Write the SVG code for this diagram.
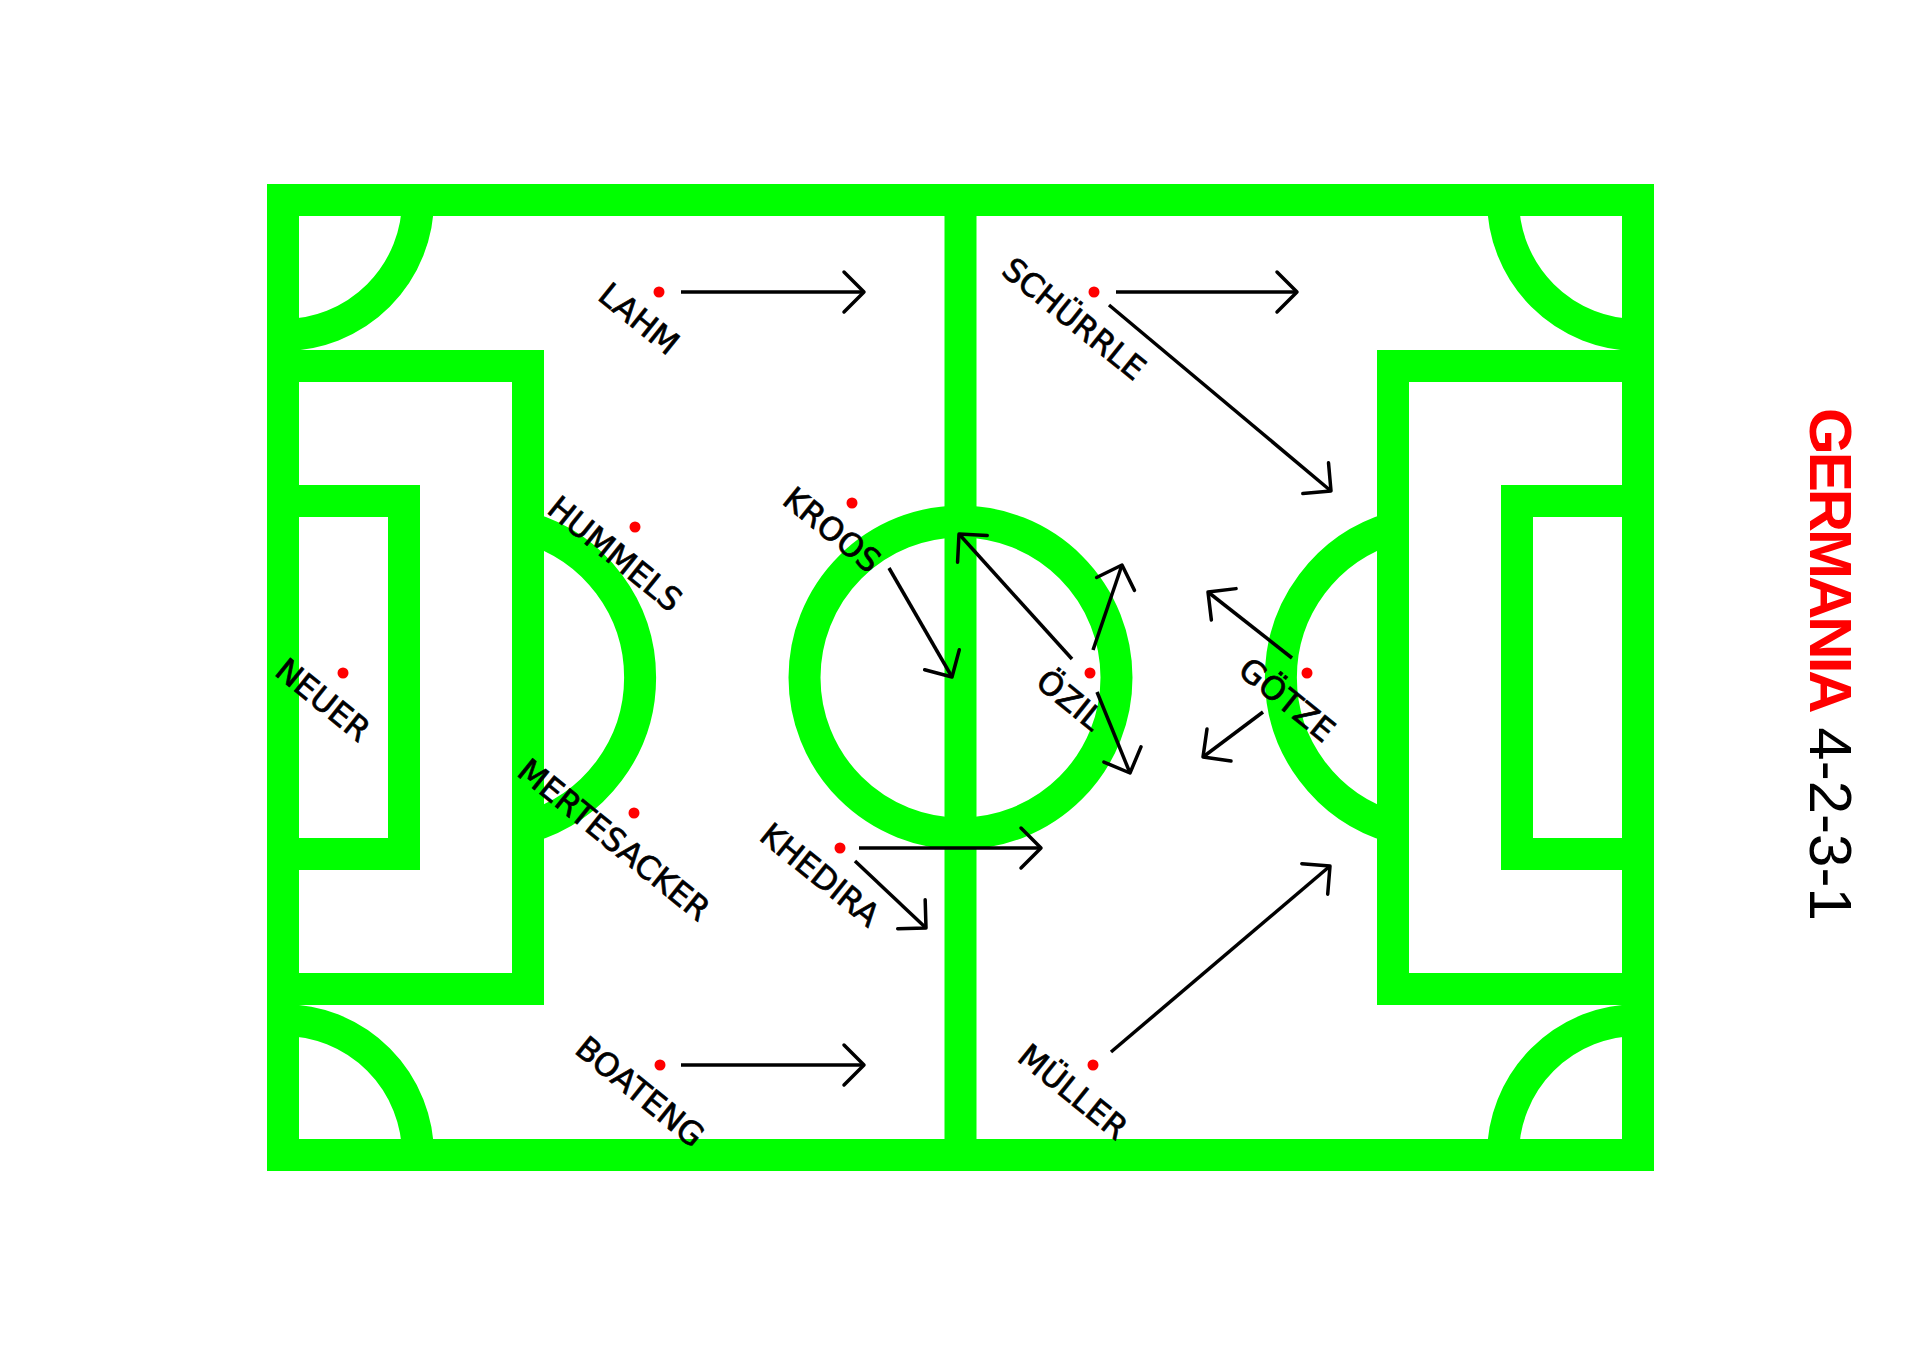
<svg xmlns="http://www.w3.org/2000/svg" width="1920" height="1356" viewBox="0 0 1920 1356">
<style>
.ln{fill:none;stroke:#00ff00;stroke-width:32;stroke-linejoin:miter}
.dot{fill:#ff0000}
.lbl{font-family:"DejaVu Sans",sans-serif;font-size:32px;fill:#000;stroke:#000;stroke-width:0.7px;text-anchor:middle}
.arr{fill:none;stroke:#000;stroke-width:3.5;marker-end:url(#ah)}
.ttl{font-family:"Liberation Sans",Arial,sans-serif;font-size:60px;fill:#000}
</style>
<defs>
<marker id="ah" markerUnits="userSpaceOnUse" markerWidth="50" markerHeight="50" refX="0" refY="0" orient="auto" overflow="visible">
<path d="M-20,-20 L0,0 L-20,20" fill="none" stroke="#000" stroke-width="3.5" stroke-linejoin="round" stroke-linecap="round"/>
</marker>
</defs>
<rect width="1920" height="1356" fill="#fff"/>
<g id="pitch">
<rect class="ln" x="283" y="200" width="1355" height="955"/>
<line class="ln" x1="960.5" y1="200" x2="960.5" y2="1155"/>
<circle class="ln" cx="960.5" cy="677.5" r="156"/>
<path class="ln" d="M418,200 A135,135 0 0 1 283,335"/>
<path class="ln" d="M283,1020 A135,135 0 0 1 418,1155"/>
<path class="ln" d="M1503,200 A135,135 0 0 0 1638,335"/>
<path class="ln" d="M1638,1020 A135,135 0 0 0 1503,1155"/>
<path class="ln" d="M283,366 H528 V989 H283"/>
<path class="ln" d="M1638,366 H1393 V989 H1638"/>
<path class="ln" d="M283,501 H404 V854 H283"/>
<path class="ln" d="M1638,501 H1517 V854 H1638"/>
<path class="ln" d="M528,527.8 A156,156 0 0 1 528,827.2"/>
<path class="ln" d="M1393,527.8 A156,156 0 0 0 1393,827.2"/>
</g>
<g id="connectors">
<line class="arr" x1="681" y1="292" x2="864" y2="292"/>
<line class="arr" x1="681" y1="1065" x2="864" y2="1065"/>
<line class="arr" x1="1116" y1="292" x2="1297" y2="292"/>
<line class="arr" x1="1109" y1="305" x2="1331" y2="491"/>
<line class="arr" x1="889" y1="568" x2="952" y2="677"/>
<line class="arr" x1="1072" y1="659" x2="959" y2="534"/>
<line class="arr" x1="1093" y1="650" x2="1122" y2="565"/>
<line class="arr" x1="1097" y1="692" x2="1130" y2="773"/>
<line class="arr" x1="1292" y1="658" x2="1208" y2="592"/>
<line class="arr" x1="1263" y1="712" x2="1203" y2="757"/>
<line class="arr" x1="859" y1="848" x2="1041" y2="848"/>
<line class="arr" x1="855" y1="861" x2="926" y2="928"/>
<line class="arr" x1="1111" y1="1052" x2="1330" y2="866"/>
</g>
<g id="neuer"><circle class="dot" cx="343" cy="673" r="5.5"/><text class="lbl" transform="translate(316,708.5) rotate(39)">NEUER</text></g>
<g id="lahm"><circle class="dot" cx="659" cy="292" r="5.5"/><text class="lbl" transform="translate(632,327.5) rotate(39)">LAHM</text></g>
<g id="hummels"><circle class="dot" cx="635" cy="527" r="5.5"/><text class="lbl" transform="translate(608,562.5) rotate(39)">HUMMELS</text></g>
<g id="mertesacker"><circle class="dot" cx="634" cy="813" r="5.5"/><text class="lbl" transform="translate(607,848.5) rotate(39)">MERTESACKER</text></g>
<g id="boateng"><circle class="dot" cx="660" cy="1065" r="5.5"/><text class="lbl" transform="translate(633,1100.5) rotate(39)">BOATENG</text></g>
<g id="kroos"><circle class="dot" cx="852" cy="503" r="5.5"/><text class="lbl" transform="translate(825,538.5) rotate(39)">KROOS</text></g>
<g id="khedira"><circle class="dot" cx="840" cy="848" r="5.5"/><text class="lbl" transform="translate(813,883.5) rotate(39)">KHEDIRA</text></g>
<g id="schuerrle"><circle class="dot" cx="1094" cy="292" r="5.5"/><text class="lbl" transform="translate(1067,327.5) rotate(39)">SCHÜRRLE</text></g>
<g id="oezil"><circle class="dot" cx="1090" cy="673" r="5.5"/><text class="lbl" transform="translate(1063,708.5) rotate(39)">ÖZIL</text></g>
<g id="mueller"><circle class="dot" cx="1093" cy="1065" r="5.5"/><text class="lbl" transform="translate(1066,1100.5) rotate(39)">MÜLLER</text></g>
<g id="goetze"><circle class="dot" cx="1307" cy="673" r="5.5"/><text class="lbl" transform="translate(1280,708.5) rotate(39)">GÖTZE</text></g>
<g id="title"><text class="ttl" transform="translate(1810,408) rotate(90)"><tspan fill="#ff0000" font-weight="bold" letter-spacing="-3">GERMANIA</tspan> 4-2-3-1</text></g>
</svg>
